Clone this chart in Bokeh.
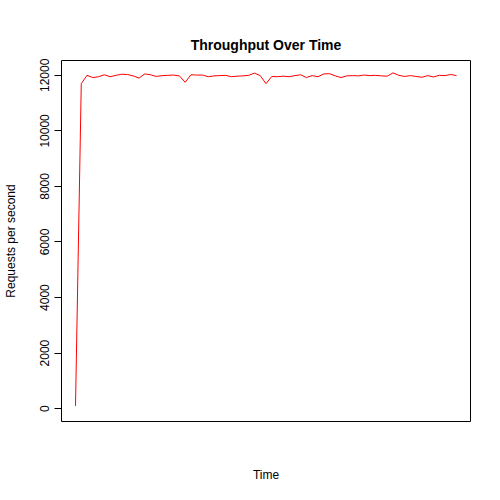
from bokeh.plotting import figure
from bokeh.models import Range1d
from bokeh.embed import file_html
from bokeh.resources import INLINE

rps = [100, 11700, 12000, 11920, 11950, 12020, 11950, 12000, 12040, 12030,
       11980, 11900, 12050, 12020, 11960, 11990, 12000, 12010, 11980, 11750,
       12020, 12010, 12010, 11950, 11980, 11990, 12000, 11950, 11970, 11980,
       12000, 12080, 11990, 11700, 11960, 11950, 11970, 11950, 11990, 12020,
       11920, 11990, 11950, 12050, 12060, 11980, 11920, 11980, 11990, 11980,
       12010, 11990, 12000, 11980, 11970, 12090, 12000, 11960, 11990, 11960,
       11930, 11990, 11940, 12000, 11990, 12030, 11990]
t = list(range(len(rps)))
n = len(rps) - 1
pad = n * 14 / 381

p = figure(width=484, height=484, output_backend="svg", toolbar_location=None,
           x_range=Range1d(-pad, n + pad), y_range=Range1d(-463, 12534),
           min_border_left=60, min_border_right=14, min_border_top=60,
           min_border_bottom=59, title="Throughput Over Time")
p.line(t, rps, color="red", line_width=1)

p.title.align = "center"
p.title.text_font = "Liberation Sans"
p.title.text_font_size = "14px"
p.title.text_font_style = "bold"
p.title.text_color = "black"
p.title.offset = -8
p.title.standoff = 16

p.xgrid.visible = False
p.ygrid.visible = False
p.outline_line_color = "black"
p.outline_line_width = 1

p.xaxis.axis_label = "Time"
p.xaxis.ticker = []
p.xaxis.axis_line_color = None
p.xaxis.axis_label_standoff = 46
p.xaxis.axis_label_text_font_style = "normal"
p.xaxis.axis_label_text_font = "Liberation Sans"
p.xaxis.axis_label_text_font_size = "12px"
p.xaxis.axis_label_text_color = "black"

p.yaxis.axis_label = "Requests per second"
p.yaxis.ticker = [0, 2000, 4000, 6000, 8000, 10000, 12000]
p.yaxis.minor_tick_line_color = None
p.yaxis.major_label_orientation = "vertical"
p.yaxis.major_tick_out = 7
p.yaxis.major_tick_in = 0
p.yaxis.axis_line_color = None
p.yaxis.major_label_text_font = "Liberation Sans"
p.yaxis.major_label_text_font_size = "12px"
p.yaxis.major_label_text_color = "black"
p.yaxis.axis_label_text_font_style = "normal"
p.yaxis.axis_label_text_font = "Liberation Sans"
p.yaxis.axis_label_text_font_size = "12px"
p.yaxis.axis_label_text_color = "black"
p.yaxis.axis_label_standoff = 20

open("out.html", "w").write(file_html(p, INLINE))
